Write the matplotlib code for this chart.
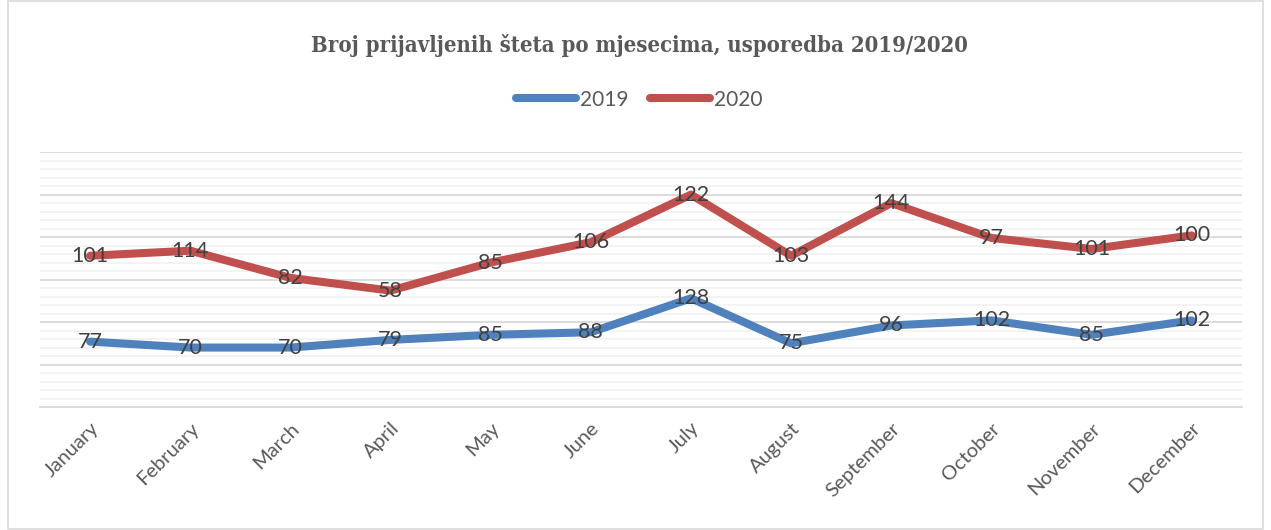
import numpy as np
import matplotlib
matplotlib.use("Agg")
import matplotlib.pyplot as plt
from matplotlib.ticker import MultipleLocator
from matplotlib.patches import Rectangle

months = ["January", "February", "March", "April", "May", "June", "July",
          "August", "September", "October", "November", "December"]
y2019 = [77, 70, 70, 79, 85, 88, 128, 75, 96, 102, 85, 102]
y2020 = [101, 114, 82, 58, 85, 106, 122, 103, 144, 97, 101, 100]

blue = "#4F81BD"
red = "#C0504D"
label_col = "#404040"
axis_col = "#595959"

# excel stacked line chart: 2020 is drawn on top of 2019
stack2020 = np.array(y2019) + np.array(y2020)

fig = plt.figure(figsize=(12.71, 5.30), dpi=100)
ax = fig.add_axes([0.0315, 0.232, 0.9455, 0.481])

x = np.arange(len(months))
ax.plot(x, y2019, color=blue, lw=5.8, solid_capstyle="round", label="2019", zorder=3)
ax.plot(x, stack2020, color=red, lw=5.8, solid_capstyle="round", label="2020", zorder=3)

for xi, yi, v in zip(x, y2019, y2019):
    ax.text(xi, yi, str(v), ha="center", va="center", fontsize=15.5,
            color=label_col, family="Lato", zorder=4)
for xi, yi, v in zip(x, stack2020, y2020):
    ax.text(xi, yi, str(v), ha="center", va="center", fontsize=15.5,
            color=label_col, family="Lato", zorder=4)

ax.set_xlim(-0.5, len(months) - 0.5)
ax.set_ylim(0, 300)
ax.yaxis.set_major_locator(MultipleLocator(50))
ax.yaxis.set_minor_locator(MultipleLocator(10))
ax.grid(axis="y", which="minor", color="#F2F2F2", lw=1.3, zorder=0)
ax.grid(axis="y", which="major", color="#D9D9D9", lw=1.3, zorder=1)
ax.tick_params(axis="y", which="both", left=False, labelleft=False)
ax.tick_params(axis="x", length=0, pad=9)
ax.set_xticks(x)
ax.set_xticklabels(months, rotation=45, ha="right", rotation_mode="anchor",
                   fontsize=14.5, color=axis_col, family="Lato")
for s in ["left", "right", "top"]:
    ax.spines[s].set_visible(False)
ax.spines["bottom"].set_color("#D9D9D9")
ax.spines["bottom"].set_linewidth(1.3)

fig.text(0.503, 0.915, "Broj prijavljenih šteta po mjesecima, usporedba 2019/2020",
         ha="center", va="center", fontsize=15.8, fontweight="bold",
         color=axis_col, family="DejaVu Serif", fontstretch="condensed")

leg = fig.legend(loc="center", bbox_to_anchor=(0.503, 0.812), ncol=2, frameon=False,
                 handlelength=2.9, columnspacing=1.0, handletextpad=0.2,
                 prop={"family": "Lato", "size": 15})
for t in leg.get_texts():
    t.set_color(axis_col)

fig.patches.append(Rectangle((0.006, 0.002), 0.988, 0.996, transform=fig.transFigure,
                             fill=False, ec="#D9D9D9", lw=1.2))

fig.savefig("out.png", dpi=100)
